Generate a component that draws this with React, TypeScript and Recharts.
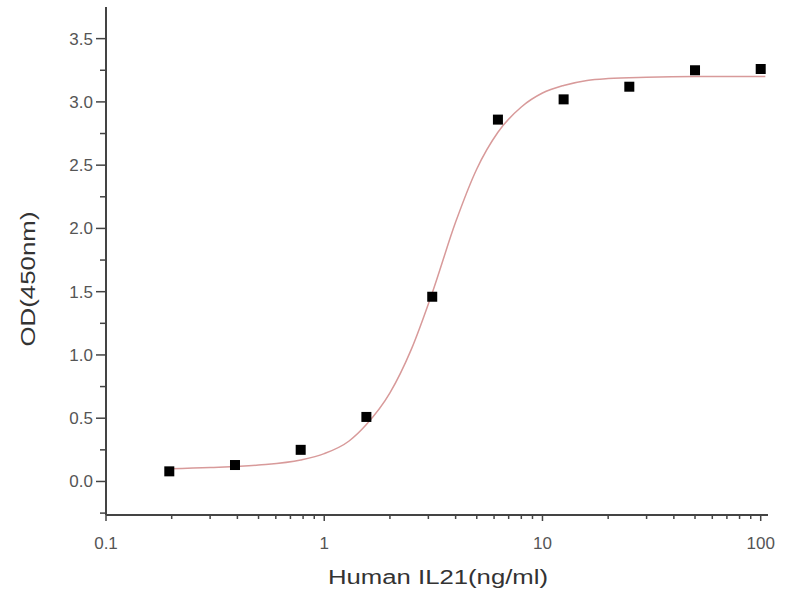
import { ScatterChart, Scatter, XAxis, YAxis } from "recharts";

// measured points (concentration in ng/ml, OD450)
const CONC = [0.195, 0.39, 0.78, 1.56, 3.125, 6.25, 12.5, 25, 50, 100];
const OD = [0.08, 0.13, 0.25, 0.51, 1.46, 2.86, 3.02, 3.12, 3.25, 3.26];

// fitted curve
const FIT_X = [0.195, 0.3, 0.5, 0.78, 1.0, 1.3, 1.56, 2.0, 2.5, 3.125, 4.0, 5.0, 6.25, 8.0, 10, 12.5, 16, 20, 30, 50, 105];
const FIT_Y = [0.1, 0.11, 0.13, 0.17, 0.22, 0.32, 0.45, 0.7, 1.04, 1.49, 2.05, 2.47, 2.76, 2.96, 3.07, 3.13, 3.17, 3.185, 3.195, 3.2, 3.2];

const X_MAJOR = [0.1, 1, 10, 100];
const X_TICKS = [
  0.1, 0.2, 0.3, 0.4, 0.5, 0.6, 0.7, 0.8, 0.9,
  1, 2, 3, 4, 5, 6, 7, 8, 9,
  10, 20, 30, 40, 50, 60, 70, 80, 90, 100,
];
const Y_TICKS = [-0.25, 0, 0.25, 0.5, 0.75, 1, 1.25, 1.5, 1.75, 2, 2.25, 2.5, 2.75, 3, 3.25, 3.5];

const points = CONC.map((c, i) => ({ x: c, y: OD[i] }));
const fit = FIT_X.map((c, i) => ({ x: c, y: FIT_Y[i] }));

const AXIS = "#444";
const FONT = "'Liberation Sans', Arial, sans-serif";

function XTick(props: any) {
  const { x, y, payload } = props;
  const v = payload.value;
  const major = X_MAJOR.some((m) => Math.abs(m - v) < 1e-9);
  return (
    <g>
      <line x1={x} x2={x} y1={y} y2={y + (major ? 6 : 4)} stroke={AXIS} strokeWidth={1.5} />
      {major && (
        <text x={x} y={y + 34} textAnchor="middle" fontSize={17} fill="#555" fontFamily={FONT}>
          {String(v)}
        </text>
      )}
    </g>
  );
}

function YTick(props: any) {
  const { x, y, payload } = props;
  const v = payload.value;
  const major = Math.abs(v * 2 - Math.round(v * 2)) < 1e-9;
  return (
    <g>
      <line x1={x} x2={x - (major ? 10 : 6)} y1={y} y2={y} stroke={AXIS} strokeWidth={1.5} />
      {major && (
        <text x={x - 13} y={y + 6} textAnchor="end" fontSize={17} fill="#555" fontFamily={FONT}>
          {v.toFixed(1)}
        </text>
      )}
    </g>
  );
}

const Square = (props: any) => {
  const { cx, cy } = props;
  return <rect x={cx - 5} y={cy - 5} width={10} height={10} fill="#000" />;
};

export default function App() {
  return (
    <div style={{ position: "absolute", left: 0, top: 0, width: 800, height: 600, background: "#fff" }}>
      <ScatterChart width={800} height={600} margin={{ top: 7, right: 32, bottom: 0, left: 0 }}>
        <XAxis
          type="number"
          dataKey="x"
          scale="log"
          domain={[0.1, 108]}
          ticks={X_TICKS}
          interval={0}
          allowDataOverflow
          tick={<XTick />}
          tickSize={0}
          tickMargin={0}
          axisLine={{ stroke: AXIS, strokeWidth: 2 }}
          tickLine={false}
          height={85}
        />
        <YAxis
          type="number"
          dataKey="y"
          domain={[-0.265, 3.75]}
          ticks={Y_TICKS}
          interval={0}
          allowDataOverflow
          tick={<YTick />}
          tickSize={0}
          tickMargin={0}
          axisLine={{ stroke: AXIS, strokeWidth: 2 }}
          tickLine={false}
          width={106}
        />
        <Scatter
          data={fit}
          line={{ stroke: "#d89a9a", strokeWidth: 1.5 }}
          lineType="joint"
          lineJointType="monotoneX"
          shape={() => null}
          isAnimationActive={false}
        />
        <Scatter data={points} shape={<Square />} isAnimationActive={false} />
      </ScatterChart>
      <svg width={800} height={600} style={{ position: "absolute", left: 0, top: 0, pointerEvents: "none" }}>
        <text
          x={438}
          y={584}
          textAnchor="middle"
          fontSize={20}
          fill="#333"
          fontFamily={FONT}
          textLength={220}
          lengthAdjust="spacingAndGlyphs"
        >
          Human IL21(ng/ml)
        </text>
        <text
          x={0}
          y={0}
          transform="translate(35,279) rotate(-90)"
          textAnchor="middle"
          fontSize={20}
          fill="#333"
          fontFamily={FONT}
          textLength={135}
          lengthAdjust="spacingAndGlyphs"
        >
          OD(450nm)
        </text>
      </svg>
    </div>
  );
}
